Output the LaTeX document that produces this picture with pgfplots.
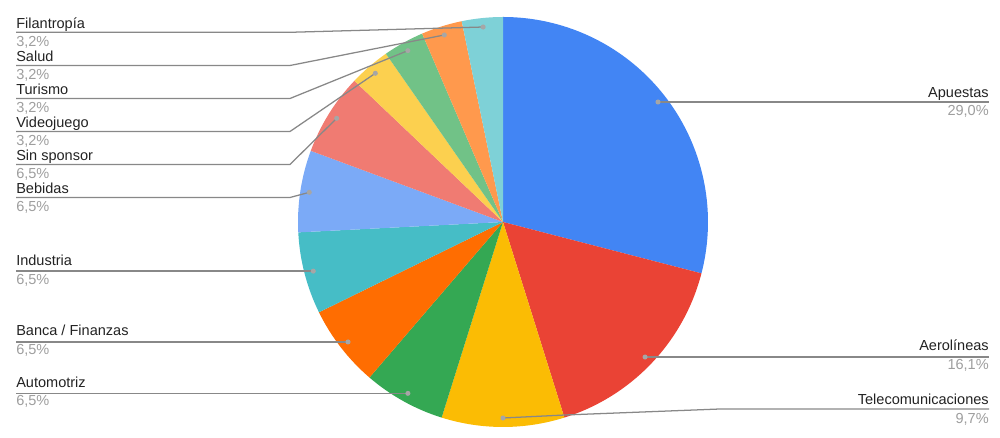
\documentclass[border=0pt]{standalone}
\usepackage{pgfplots}
\pgfplotsset{compat=1.18}
\usetikzlibrary{calc}
\usepackage{fontspec}
\setmainfont{Liberation Sans}

\definecolor{cApu}{HTML}{4285F4}
\definecolor{cAer}{HTML}{EA4335}
\definecolor{cTel}{HTML}{FBBC04}
\definecolor{cAut}{HTML}{34A853}
\definecolor{cBan}{HTML}{FF6D01}
\definecolor{cInd}{HTML}{46BDC6}
\definecolor{cBeb}{HTML}{7BAAF7}
\definecolor{cSin}{HTML}{F07B72}
\definecolor{cVid}{HTML}{FCD04F}
\definecolor{cTur}{HTML}{71C287}
\definecolor{cSal}{HTML}{FF994D}
\definecolor{cFil}{HTML}{7ED1D7}
\definecolor{txt}{HTML}{222222}
\definecolor{pct}{HTML}{9E9E9E}
\definecolor{lead}{HTML}{888888}
\definecolor{dot}{HTML}{A6A6A6}

% sponsors: count / colour (clockwise from 12 o'clock)
\def\piedata{9/cApu,5/cAer,3/cTel,2/cAut,2/cBan,2/cInd,2/cBeb,2/cSin,1/cVid,1/cTur,1/cSal,1/cFil}

\begin{document}
\fontsize{10.9}{13}\selectfont
\begin{tikzpicture}
\begin{axis}[
    width=750pt, height=328.5pt,
    scale only axis,
    xmin=0, xmax=1000, ymin=0, ymax=438,
    hide axis, clip=false,
]
\path (axis cs:0,0) rectangle (axis cs:1000,438);
\coordinate (L) at (axis cs:16,0);
\coordinate (R) at (axis cs:989,0);

% total
\gdef\tot{0}
\foreach \v/\c in \piedata {\pgfmathsetmacro\t{\tot+\v}\xdef\tot{\t}}

% wedges and dots
\gdef\cum{0}
\foreach \v/\c [count=\i] in \piedata {
  \pgfmathsetmacro\a{90-\cum/\tot*360}
  \pgfmathsetmacro\b{90-(\cum+\v)/\tot*360}
  \pgfmathsetmacro\m{90-(\cum+0.5*\v)/\tot*360}
  \edef\tmp{\noexpand\fill[\c] (axis cs:503,216) -- ++(\a:153.75pt)
     arc[start angle=\a, end angle=\b, radius=153.75pt] -- cycle;
     \noexpand\coordinate (d\i) at ($(axis cs:503,216)+(\m:147pt)$);}
  \tmp
  \pgfmathsetmacro\n{\cum+\v}\xdef\cum{\n}
}

% leader lines
\begin{scope}[lead, line width=0.95pt]
\draw (d1) -- (d1 -| R);
\draw (d2) -- (d2 -| R);
\draw (d3) -- (axis cs:565,23) -- (axis cs:720,29) -- (axis cs:989,29);
\draw (d4) -- (d4 -| L);
\draw (d5) -- (d5 -| L);
\draw (d6) -- (d6 -| L);
\draw (d7) -- (axis cs:290,240.5) -- (axis cs:16,240.5);
\draw (d8) -- (axis cs:290,273.5) -- (axis cs:16,273.5);
\draw (d9) -- (axis cs:290,306.5) -- (axis cs:16,306.5);
\draw (d10) -- (axis cs:290,339.5) -- (axis cs:16,339.5);
\draw (d11) -- (axis cs:290,372.5) -- (axis cs:16,372.5);
\draw (d12) -- (axis cs:290,405.7) -- (axis cs:16,405.7);
\end{scope}
\foreach \i in {1,...,12} {\edef\tmp{\noexpand\fill[dot] (d\i) circle[radius=1.9pt];}\tmp}

% labels right
\foreach \y/\name/\p in {336.5/Apuestas/{29,0\%},83/Aerolíneas/{16,1\%},29/Telecomunicaciones/{9,7\%}} {
  \edef\tmp{\noexpand\node[anchor=base east, inner sep=0pt, text=txt] at (axis cs:989,{\y+4}) {\name};
    \noexpand\node[anchor=base east, inner sep=0pt, text=pct] at (axis cs:989,{\y-14.5}) {\p};}
  \tmp
}
% labels left
\foreach \y/\name/\p in {405.7/Filantropía/{3,2\%},372.5/Salud/{3,2\%},339.5/Turismo/{3,2\%},
    306.5/Videojuego/{3,2\%},273.5/Sin sponsor/{6,5\%},240.5/Bebidas/{6,5\%},
    168.3/Industria/{6,5\%},98/{Banca / Finanzas}/{6,5\%},46.7/Automotriz/{6,5\%}} {
  \edef\tmp{\noexpand\node[anchor=base west, inner sep=0pt, text=txt] at (axis cs:16,{\y+4}) {\name};
    \noexpand\node[anchor=base west, inner sep=0pt, text=pct] at (axis cs:16,{\y-14.5}) {\p};}
  \tmp
}
\end{axis}
\end{tikzpicture}
\end{document}
